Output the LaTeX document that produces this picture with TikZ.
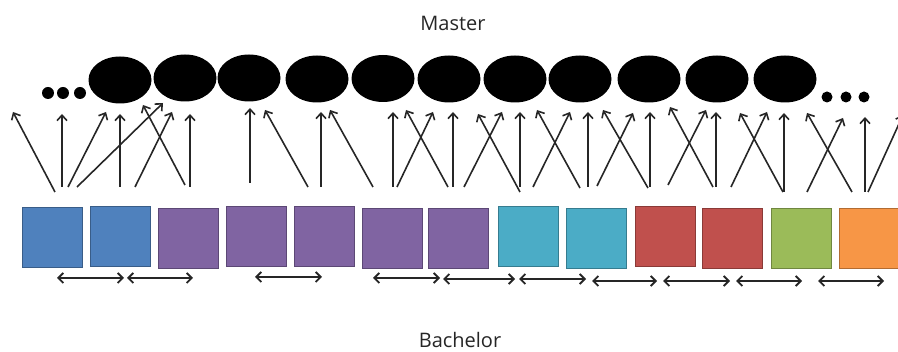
\documentclass[tikz,border=0pt]{standalone}
\usepackage{fontspec}
\setmainfont{Open Sans}
\usetikzlibrary{arrows.meta,shapes.geometric}
\definecolor{cblue}{HTML}{4F81BD}
\definecolor{cpurple}{HTML}{8064A2}
\definecolor{cteal}{HTML}{4BACC6}
\definecolor{cred}{HTML}{C0504D}
\definecolor{cgreen}{HTML}{9BBB59}
\definecolor{corange}{HTML}{F79646}
\begin{document}
\begin{tikzpicture}[x=1pt,y=-1pt,
  master/.style={ellipse,fill=black,inner sep=0pt,minimum width=63pt,minimum height=47pt},
  dotn/.style={circle,fill=black,inner sep=0pt,minimum size=12pt},
  sq/.style={draw=#1!72!black,fill=#1,line width=1pt,minimum size=60pt,inner sep=0pt},
  up/.style={-{Straight Barb[length=5.5pt,width=10pt]},line width=1.6pt,black!85},
  lr/.style={{Straight Barb[length=5pt,width=10pt]}-{Straight Barb[length=5pt,width=10pt]},line width=1.8pt,black!85},
  lbl/.style={font=\fontsize{20}{24}\selectfont,text=black!85,anchor=base,inner sep=0pt}]
\useasboundingbox (0,0) rectangle (898,352);
\clip (0,0) rectangle (898,352);
% labels
\node[lbl] (master) at (453,31) {Master};
\node[lbl] (bachelor) at (460,348) {Bachelor};
% dots
\node[dotn] (dl1) at (48,93) {};
\node[dotn] (dl2) at (63,93) {};
\node[dotn] (dl3) at (80,93) {};
\node[dotn,minimum size=11pt] (dr1) at (827,97) {};
\node[dotn,minimum size=11pt] (dr2) at (846,97) {};
\node[dotn,minimum size=11pt] (dr3) at (864,97) {};
% master ellipses
\foreach \i/\x/\y in {1/120/80,2/185/78,3/249/78,4/317/79,5/383/78.5,6/449/79,7/515/79,8/580/79,9/649/79,10/717/79,11/785/79}
  \node[master] (m\i) at (\x,\y) {};
% bachelor squares
\foreach \i/\x/\y/\c in {1/52/238/cblue,2/120/236.5/cblue,3/188/238.5/cpurple,4/256.5/236.5/cpurple,5/324/236.5/cpurple,6/392.5/238.5/cpurple,7/458.5/238.5/cpurple,8/528.5/236.5/cteal,9/596.5/238.5/cteal,10/665/236.5/cred,11/732.5/238.5/cred,12/801/238.5/cgreen,13/869/238.5/corange}
  \node[sq=\c] (b\i) at (\x,\y) {};
% upward arrows
\foreach \i/\xa/\ya/\xb/\yb in {1/55/192/13/112,2/62/187/62/114,3/68/187/106/112,4/77/187/163/103,5/120/187/120/114,6/135/187/172/112,7/185/185/143/105,8/190/187/190/114,9/250/183/250/108,10/308/187/265/110,11/321/187/321/112,12/373/187/330/110,13/393/187/393/112,14/397/187/433/112,15/448/187/406/110,16/453/187/453/112,17/464/187/502/112,18/520/192/478/114,19/520/187/520/112,20/533/187/570/112,21/580/188/537/110,22/588/187/588/112,23/648/188/603/110,24/597/186/633/113,25/650/187/650/112,26/713/187/670/107,27/668/185/706/110,28/716/187/716/112,29/783/192/740/113,30/731/187/767/112,31/784/192/784/113,32/852/192/807/113,33/807/192/843/118,34/865/192/865/117,35/868/192/903/115}
{
  \coordinate (ub\i) at (\xa,\ya);
  \coordinate (ut\i) at (\xb,\yb);
  \draw[up] (ub\i) -- (ut\i);
}
% double arrows
\foreach \i/\xa/\xb/\y in {1/57/124/278,2/127/193/278,3/255/322/277,4/373/440/278,5/443/515/279,6/519/586/279,7/592/657/281,8/663/730/281,9/736/802/281,10/818/884/281}
{
  \coordinate (la\i) at (\xa,\y);
  \coordinate (lb\i) at (\xb,\y);
  \draw[lr] (la\i) -- (lb\i);
}
\end{tikzpicture}
\end{document}
